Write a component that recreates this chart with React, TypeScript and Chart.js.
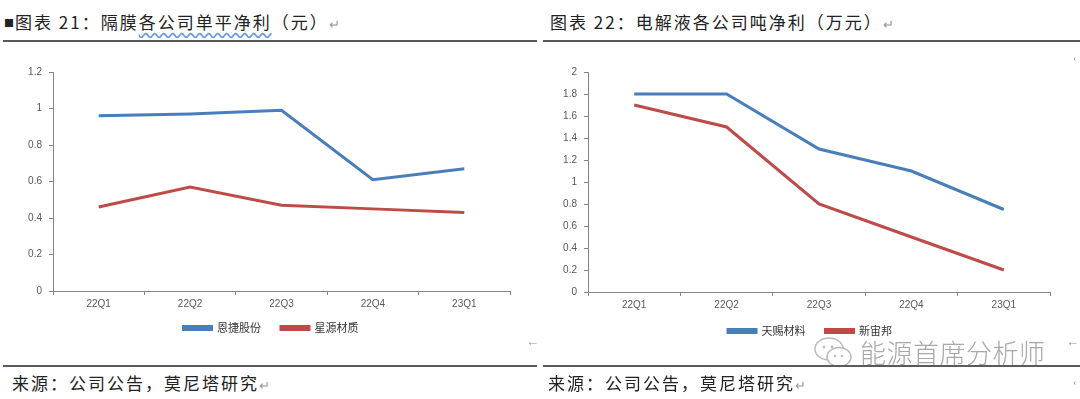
import React, { useEffect, useRef } from "react";
import { Chart, registerables } from "chart.js";

Chart.register(...registerables);

const categories = ["22Q1", "22Q2", "22Q3", "22Q4", "23Q1"];
const enjie = [0.96, 0.97, 0.99, 0.61, 0.67];
const xingyuan = [0.46, 0.57, 0.47, 0.45, 0.43];
const tianci = [1.8, 1.8, 1.3, 1.1, 0.75];
const xinzhoubang = [1.7, 1.5, 0.8, 0.5, 0.2];
const leftYMax = 1.2;
const rightYMax = 2;
const yStep = 0.2;

const BLUE = "#4A7EBB";
const RED = "#BE4B48";
const AXIS = "#868686";
const TICK_FONT = { family: "'Liberation Sans', Arial, sans-serif", size: 10 };
const LEGEND_FONT = { family: "'Noto Sans CJK SC', sans-serif", size: 11 };

type Cfg = {
  names: [string, string];
  a: number[];
  b: number[];
  yMax: number;
  width: number;
  height: number;
  pad: { top: number; left: number; right: number; bottom: number };
  yWidth: number;
  rightSpace: number;
  xHeight: number;
  legendShift: number;
};

function LineChart({ cfg }: { cfg: Cfg }) {
  const ref = useRef<HTMLCanvasElement | null>(null);
  useEffect(() => {
    if (!ref.current) return;
    const shiftPlugin = {
      id: "legendShift",
      afterLayout(chart: any) {
        if (chart.legend) {
          chart.legend.top -= cfg.legendShift;
          chart.legend.bottom -= cfg.legendShift;
        }
      },
    };
    const chart = new Chart(ref.current, {
      type: "line",
      data: {
        labels: categories,
        datasets: [
          {
            label: cfg.names[0],
            data: cfg.a,
            borderColor: BLUE,
            backgroundColor: BLUE,
            borderWidth: 3,
            pointRadius: 0,
            tension: 0,
          },
          {
            label: cfg.names[1],
            data: cfg.b,
            borderColor: RED,
            backgroundColor: RED,
            borderWidth: 3,
            pointRadius: 0,
            tension: 0,
          },
        ],
      },
      plugins: [shiftPlugin],
      options: {
        responsive: false,
        animation: false,
        devicePixelRatio: 1,
        layout: { padding: cfg.pad },
        plugins: {
          tooltip: { enabled: false },
          legend: {
            position: "bottom",
            labels: {
              boxWidth: 28,
              boxHeight: 3,
              padding: 20,
              color: "#333",
              font: LEGEND_FONT,
            },
          },
        },
        scales: {
          x: {
            offset: true,
            grid: {
              display: true,
              offset: true,
              drawOnChartArea: false,
              drawTicks: true,
              tickLength: 4,
              color: AXIS,
            },
            border: { display: true, color: AXIS, width: 1 },
            ticks: { color: "#595959", font: TICK_FONT, padding: 3, maxRotation: 0 },
            afterFit: (s: any) => {
              s.height = cfg.xHeight;
            },
          },
          y: {
            min: 0,
            max: cfg.yMax,
            grid: {
              display: true,
              drawOnChartArea: false,
              drawTicks: true,
              tickLength: 4,
              color: AXIS,
            },
            border: { display: true, color: AXIS, width: 1 },
            ticks: {
              stepSize: yStep,
              color: "#595959",
              font: TICK_FONT,
              padding: 7,
              callback: (v: any) => String(Math.round(Number(v) * 10) / 10),
            },
            afterFit: (s: any) => {
              s.width = cfg.yWidth;
            },
          },
          space: {
            type: "linear",
            axis: "y",
            position: "right",
            display: true,
            grid: { display: false, drawTicks: false },
            border: { display: false },
            ticks: { display: false },
            afterFit: (s: any) => {
              s.width = cfg.rightSpace;
            },
          },
        },
      } as any,
    });
    return () => chart.destroy();
  }, []);
  return (
    <canvas
      ref={ref}
      width={cfg.width}
      height={cfg.height}
      style={{ width: cfg.width, height: cfg.height, display: "block" }}
    />
  );
}

const abs = (o: React.CSSProperties): React.CSSProperties => ({ position: "absolute", ...o });
const CJK = "'Noto Sans CJK SC', 'Noto Sans', sans-serif";

export default function App() {
  const leftCfg: Cfg = {
    names: ["恩捷股份", "星源材质"],
    a: enjie,
    b: xingyuan,
    yMax: leftYMax,
    width: 542,
    height: 300,
    pad: { top: 22, left: 0, right: 0, bottom: 0 },
    yWidth: 53,
    rightSpace: 32,
    xHeight: 18,
    legendShift: 6.5,
  };
  const rightCfg: Cfg = {
    names: ["天赐材料", "新宙邦"],
    a: tianci,
    b: xinzhoubang,
    yMax: rightYMax,
    width: 540,
    height: 301,
    pad: { top: 22, left: 0, right: 0, bottom: 0 },
    yWidth: 48,
    rightSpace: 30,
    xHeight: 18,
    legendShift: 4.5,
  };
  const titleStyle: React.CSSProperties = {
    fontFamily: CJK,
    fontSize: 17,
    letterSpacing: 2,
    color: "#222",
    whiteSpace: "nowrap",
    lineHeight: "20px",
  };
  const mark: React.CSSProperties = { color: "#999", fontSize: 13, letterSpacing: 0 };
  return (
    <div style={{ position: "fixed", left: 0, top: 0, width: 1080, height: 399, background: "#fff", overflow: "hidden" }}>
      {/* titles */}
      <div style={abs({ left: 4, top: 12, ...titleStyle })}>
        <span style={{ fontSize: 10, verticalAlign: "2px", letterSpacing: 1 }}>■</span>图表 21：隔膜
        <span style={{ textDecoration: "underline wavy #6a9ae0", textUnderlineOffset: 3 }}>各公司单平净利</span>
        （元）<span style={mark}>↵</span>
      </div>
      <div style={abs({ left: 550, top: 12, ...titleStyle })}>
        图表 22：电解液各公司吨净利（万元）<span style={mark}>↵</span>
      </div>
      {/* top rules */}
      <div style={abs({ left: 3, top: 40, width: 534, height: 2, background: "#5a5a5a" })} />
      <div style={abs({ left: 543, top: 40, width: 537, height: 2, background: "#5a5a5a" })} />
      {/* charts */}
      <div style={abs({ left: 0, top: 50 })}>
        <LineChart cfg={leftCfg} />
      </div>
      <div style={abs({ left: 540, top: 50 })}>
        <LineChart cfg={rightCfg} />
      </div>
      {/* small marks */}
      <div style={abs({ left: 526, top: 334, ...mark })}>←</div>
      <div style={abs({ left: 1066, top: 334, ...mark })}>←</div>
      <div style={abs({ left: 1073, top: 52, color: "#999", fontSize: 10 })}>‹</div>
      <div style={abs({ left: 1073, top: 376, color: "#999", fontSize: 10 })}>‹</div>
      {/* watermark */}
      <svg style={abs({ left: 812, top: 336 })} width={44} height={34} viewBox="0 0 44 34">
        <ellipse cx="17" cy="13" rx="14" ry="11" fill="#fff" stroke="#bbb" strokeWidth="1.5" />
        <ellipse cx="27" cy="21" rx="12" ry="9.5" fill="#fff" stroke="#bbb" strokeWidth="1.5" />
        <circle cx="12" cy="11" r="1.4" fill="#bbb" />
        <circle cx="20" cy="11" r="1.4" fill="#bbb" />
        <circle cx="23" cy="20" r="1.2" fill="#bbb" />
        <circle cx="30" cy="20" r="1.2" fill="#bbb" />
      </svg>
      <div
        style={abs({
          left: 860,
          top: 335,
          fontFamily: CJK,
          fontSize: 26,
          fontWeight: 300,
          color: "#a8a8a8",
          letterSpacing: 0.5,
          whiteSpace: "nowrap",
          lineHeight: "34px",
        })}
      >
        能源首席分析师
      </div>
      {/* bottom rules */}
      <div style={abs({ left: 3, top: 365, width: 534, height: 2, background: "#5a5a5a" })} />
      <div style={abs({ left: 543, top: 365, width: 537, height: 2, background: "#5a5a5a" })} />
      {/* sources */}
      <div style={abs({ left: 12, top: 373, ...titleStyle })}>
        来源：公司公告，莫尼塔研究<span style={mark}>↵</span>
      </div>
      <div style={abs({ left: 548, top: 373, ...titleStyle })}>
        来源：公司公告，莫尼塔研究<span style={mark}>↵</span>
      </div>
    </div>
  );
}
